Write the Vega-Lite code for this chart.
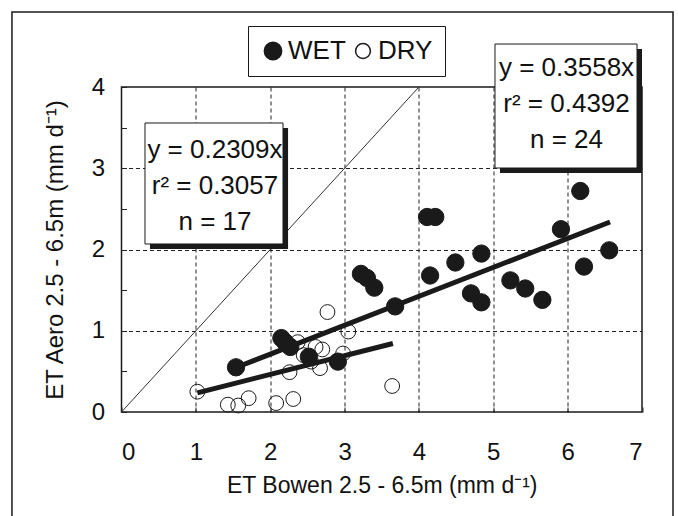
{
  "$schema": "https://vega.github.io/schema/vega-lite/v6.json",
  "width": 520.5,
  "height": 325,
  "autosize": "none",
  "padding": {"left": 121.5, "top": 87, "right": 36, "bottom": 104},
  "background": "white",
  "config": {
    "font": "Liberation Sans",
    "view": {"stroke": "#1a1a1a", "strokeWidth": 1.5},
    "axis": {
      "domain": false,
      "grid": true,
      "gridDash": [4, 3],
      "gridColor": "#222222",
      "gridWidth": 1,
      "tickColor": "#222222",
      "tickSize": -5,
      "tickWidth": 1,
      "labelColor": "#111111",
      "labelFont": "Liberation Sans",
      "labelFontSize": 24,
      "titleFont": "Liberation Sans",
      "titleFontSize": 23,
      "titleFontWeight": "normal",
      "titleColor": "#111111"
    }
  },
  "datasets": {
    "pts": [
      {"x": 1.54, "y": 0.55, "s": "WET"},
      {"x": 2.15, "y": 0.91, "s": "WET"},
      {"x": 2.27, "y": 0.80, "s": "WET"},
      {"x": 2.20, "y": 0.86, "s": "WET"},
      {"x": 2.52, "y": 0.68, "s": "WET"},
      {"x": 2.91, "y": 0.62, "s": "WET"},
      {"x": 3.22, "y": 1.70, "s": "WET"},
      {"x": 3.30, "y": 1.65, "s": "WET"},
      {"x": 3.40, "y": 1.53, "s": "WET"},
      {"x": 3.68, "y": 1.30, "s": "WET"},
      {"x": 4.11, "y": 2.40, "s": "WET"},
      {"x": 4.22, "y": 2.40, "s": "WET"},
      {"x": 4.15, "y": 1.68, "s": "WET"},
      {"x": 4.49, "y": 1.84, "s": "WET"},
      {"x": 4.84, "y": 1.95, "s": "WET"},
      {"x": 4.70, "y": 1.46, "s": "WET"},
      {"x": 4.84, "y": 1.35, "s": "WET"},
      {"x": 5.23, "y": 1.62, "s": "WET"},
      {"x": 5.43, "y": 1.52, "s": "WET"},
      {"x": 5.66, "y": 1.38, "s": "WET"},
      {"x": 5.91, "y": 2.25, "s": "WET"},
      {"x": 6.17, "y": 2.72, "s": "WET"},
      {"x": 6.22, "y": 1.79, "s": "WET"},
      {"x": 6.56, "y": 1.99, "s": "WET"},
      {"x": 1.02, "y": 0.25, "s": "DRY"},
      {"x": 1.43, "y": 0.09, "s": "DRY"},
      {"x": 1.57, "y": 0.08, "s": "DRY"},
      {"x": 1.71, "y": 0.17, "s": "DRY"},
      {"x": 2.08, "y": 0.11, "s": "DRY"},
      {"x": 2.31, "y": 0.16, "s": "DRY"},
      {"x": 2.26, "y": 0.49, "s": "DRY"},
      {"x": 2.37, "y": 0.86, "s": "DRY"},
      {"x": 2.45, "y": 0.70, "s": "DRY"},
      {"x": 2.61, "y": 0.80, "s": "DRY"},
      {"x": 2.70, "y": 0.77, "s": "DRY"},
      {"x": 2.67, "y": 0.54, "s": "DRY"},
      {"x": 2.55, "y": 0.62, "s": "DRY"},
      {"x": 2.77, "y": 1.23, "s": "DRY"},
      {"x": 3.05, "y": 0.99, "s": "DRY"},
      {"x": 2.98, "y": 0.72, "s": "DRY"},
      {"x": 3.64, "y": 0.32, "s": "DRY"}
    ],
    "fits": [
      {"x": 1.54, "y": 0.548, "s": "WET"},
      {"x": 6.57, "y": 2.338, "s": "WET"},
      {"x": 1.02, "y": 0.236, "s": "DRY"},
      {"x": 3.65, "y": 0.843, "s": "DRY"}
    ],
    "diag": [
      {"x": 0, "y": 0},
      {"x": 4, "y": 4}
    ]
  },
  "layer": [
    {
      "data": {"values": [{}]},
      "mark": {"type": "rect", "fill": null, "fillOpacity": 0, "stroke": "#1a1a1a", "strokeWidth": 1.5, "clip": false},
      "encoding": {
        "x": {"datum": -1.473, "type": "quantitative"},
        "x2": {"datum": 7.417},
        "y": {"datum": 4.923, "type": "quantitative"},
        "y2": {"datum": -1.5}
      }
    },
    {
      "data": {"name": "diag"},
      "mark": {"type": "line", "color": "#333333", "strokeWidth": 1},
      "encoding": {
        "x": {
          "field": "x", "type": "quantitative",
          "scale": {"domain": [0, 7], "nice": false, "zero": false},
          "axis": {
            "values": [0, 0.5, 1, 1.5, 2, 2.5, 3, 3.5, 4, 4.5, 5, 5.5, 6, 6.5, 7],
            "labelExpr": "datum.value % 1 === 0 ? format(datum.value, 'd') : ''",
            "gridOpacity": {"condition": {"test": "datum.value % 1 !== 0 || datum.value === 0 || datum.value === 7", "value": 0}, "value": 1},
            "labelPadding": 33,
            "labelBaseline": "top",
            "title": "ET Bowen 2.5 - 6.5m   (mm d⁻¹)",
            "titlePadding": 10
          }
        },
        "y": {
          "field": "y", "type": "quantitative",
          "scale": {"domain": [0, 4], "nice": false, "zero": false},
          "axis": {
            "values": [0, 0.5, 1, 1.5, 2, 2.5, 3, 3.5, 4],
            "labelExpr": "datum.value % 1 === 0 ? format(datum.value, 'd') : ''",
            "gridOpacity": {"condition": {"test": "datum.value % 1 !== 0 || datum.value === 0 || datum.value === 4", "value": 0}, "value": 1},
            "labelPadding": 22,
            "title": "ET Aero 2.5 - 6.5m   (mm d⁻¹)",
            "titleFontSize": 24,
            "titlePadding": 24
          }
        }
      }
    },
    {
      "data": {"name": "fits"},
      "mark": {"type": "line", "color": "#1a1a1a", "strokeWidth": 5, "strokeCap": "butt"},
      "encoding": {
        "x": {"field": "x", "type": "quantitative"},
        "y": {"field": "y", "type": "quantitative"},
        "detail": {"field": "s"}
      }
    },
    {
      "data": {"name": "pts"},
      "mark": {"type": "point", "shape": "circle", "filled": true, "stroke": "#1a1a1a", "strokeWidth": 1, "opacity": 1},
      "encoding": {
        "x": {"field": "x", "type": "quantitative"},
        "y": {"field": "y", "type": "quantitative"},
        "fill": {
          "field": "s", "type": "nominal",
          "scale": {"domain": ["WET", "DRY"], "range": ["#1a1a1a", "transparent"]},
          "legend": {
            "title": null,
            "orient": "none",
            "direction": "horizontal",
            "legendX": 126.5,
            "legendY": -61,
            "strokeColor": "#1a1a1a",
            "fillColor": "white",
            "padding": 12,
            "labelFont": "Liberation Sans",
            "labelFontSize": 26,
            "labelColor": "#111111",
            "labelOffset": 2,
            "columnPadding": 4,
            "encode": {"symbols": {"update": {"stroke": {"value": "#1a1a1a"}, "strokeWidth": {"value": 1}}}}
          }
        },
        "size": {
          "field": "s", "type": "nominal",
          "scale": {"domain": ["WET", "DRY"], "range": [300, 220]},
          "legend": {
            "title": null,
            "orient": "none",
            "direction": "horizontal",
            "legendX": 126.5,
            "legendY": -61,
            "strokeColor": "#1a1a1a",
            "fillColor": "white",
            "padding": 12,
            "labelFont": "Liberation Sans",
            "labelFontSize": 26,
            "labelColor": "#111111",
            "labelOffset": 2,
            "columnPadding": 4,
            "encode": {"symbols": {"update": {"stroke": {"value": "#1a1a1a"}, "strokeWidth": {"value": 1}}}}
          }
        }
      }
    },
    {
      "data": {"values": [{}]},
      "mark": {"type": "rect", "fill": "#1a1a1a", "clip": false},
      "encoding": {
        "x": {"datum": 0.383, "type": "quantitative"},
        "x2": {"datum": 2.24},
        "y": {"datum": 3.495, "type": "quantitative"},
        "y2": {"datum": 2.006}
      }
    },
    {
      "data": {"values": [{}]},
      "mark": {"type": "rect", "fill": "white", "stroke": "#1a1a1a", "strokeWidth": 1, "clip": false},
      "encoding": {
        "x": {"datum": 0.316, "type": "quantitative"},
        "x2": {"datum": 2.172},
        "y": {"datum": 3.557, "type": "quantitative"},
        "y2": {"datum": 2.068}
      }
    },
    {
      "data": {"values": [{}]},
      "mark": {"type": "rect", "fill": "#1a1a1a", "clip": false},
      "encoding": {
        "x": {"datum": 5.09, "type": "quantitative"},
        "x2": {"datum": 7.0},
        "y": {"datum": 4.468, "type": "quantitative"},
        "y2": {"datum": 2.942}
      }
    },
    {
      "data": {"values": [{}]},
      "mark": {"type": "rect", "fill": "white", "stroke": "#1a1a1a", "strokeWidth": 1, "clip": false},
      "encoding": {
        "x": {"datum": 5.023, "type": "quantitative"},
        "x2": {"datum": 6.933},
        "y": {"datum": 4.529, "type": "quantitative"},
        "y2": {"datum": 3.003}
      }
    },
    {
      "data": {"values": [{}]},
      "mark": {"type": "text", "text": ["y = 0.2309x", "r² = 0.3057", "n = 17"], "font": "Liberation Sans", "fontSize": 26, "lineHeight": 36, "align": "center", "baseline": "middle", "color": "#111111", "clip": false},
      "encoding": {
        "x": {"datum": 1.257, "type": "quantitative"},
        "y": {"datum": 3.225, "type": "quantitative"}
      }
    },
    {
      "data": {"values": [{}]},
      "mark": {"type": "text", "text": ["y = 0.3558x", "r² = 0.4392", "n = 24"], "font": "Liberation Sans", "fontSize": 26, "lineHeight": 36, "align": "center", "baseline": "middle", "color": "#111111", "clip": false},
      "encoding": {
        "x": {"datum": 5.985, "type": "quantitative"},
        "y": {"datum": 4.234, "type": "quantitative"}
      }
    }
  ]
}
